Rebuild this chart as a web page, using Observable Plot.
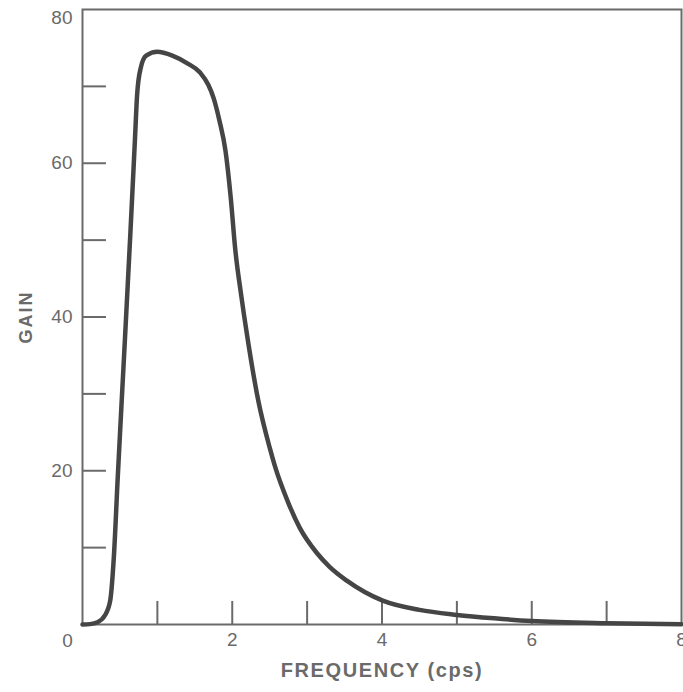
<!DOCTYPE html>
<html>
<head>
<meta charset="utf-8">
<script src="https://cdn.jsdelivr.net/npm/d3@7"></script>
<script src="https://cdn.jsdelivr.net/npm/@observablehq/plot@0.6"></script>
<style>
  body { margin: 0; background: #fff; }
</style>
</head>
<body>
<div id="chart"></div>
<script>
const freq = [0, 0.1, 0.2, 0.3, 0.37, 0.42, 0.47, 0.55, 0.64, 0.7, 0.73, 0.78, 0.85, 1.0, 1.2, 1.4, 1.57, 1.68, 1.75, 1.83, 1.91, 1.98, 2.04, 2.12, 2.2, 2.35, 2.5, 2.57, 2.75, 2.9, 3.13, 3.3, 3.53, 4.01, 4.5, 5.0, 5.5, 6.0, 7.0, 8.0];
const gain = [0, 0.05, 0.3, 1.2, 3.1, 9, 19, 34, 51, 63, 69, 72.5, 74, 74.5, 74, 73, 71.8, 70.2, 68.5, 65.5, 61.6, 55.5, 48.8, 42.8, 37.5, 29, 23, 20.6, 15.8, 12.6, 9.3, 7.5, 5.7, 3.1, 1.9, 1.25, 0.8, 0.45, 0.15, 0.03];
const xTickLabels = [2, 4, 6, 8];
const yTickLabels = [20, 40, 60];
const topLabel = [80];
const originLabel = [0];
const xInnerTicks = [1, 2, 3, 4, 5, 6, 7];
const yInnerTicks = [10, 20, 30, 40, 50, 60, 70];

const data = freq.map((f, i) => ({f, g: gain[i]}));
const axisColor = "#6a6a6a";

const chart = Plot.plot({
  width: 683,
  height: 692,
  marginLeft: 82,
  marginTop: 9,
  marginRight: 2,
  marginBottom: 68,
  x: {domain: [0, 8]},
  y: {domain: [0, 80]},
  style: {fontFamily: "'Liberation Sans', Arial, sans-serif", fontSize: "19px", color: axisColor, background: "#fff"},
  marks: [
    Plot.frame({stroke: axisColor, strokeWidth: 2}),
    Plot.axisX({ticks: xTickLabels, tickSize: 0, tickPadding: 8, label: "FREQUENCY (cps)", labelAnchor: "center", labelOffset: 52, labelArrow: "none"}),
    Plot.axisY({ticks: yTickLabels, tickSize: 0, tickPadding: 10, label: "GAIN", labelAnchor: "center", labelOffset: 63, labelArrow: "none"}),
    Plot.text(topLabel, {x: 0, y: d => d, text: d => String(d), textAnchor: "end", dx: -10, dy: 8, fill: axisColor, fontSize: 19}),
    Plot.text(originLabel, {x: d => d, y: 0, text: d => String(d), textAnchor: "middle", dx: -15, dy: 16, fill: axisColor, fontSize: 19}),
    Plot.ruleY(yInnerTicks, {x1: 0, x2: 0.32, stroke: axisColor, strokeWidth: 2}),
    Plot.ruleX(xInnerTicks, {y1: 0, y2: 3, stroke: axisColor, strokeWidth: 2}),
    Plot.line(data, {x: "f", y: "g", curve: "monotone-x", stroke: "#454545", strokeWidth: 4.5})
  ]
});
document.getElementById("chart").appendChild(chart);
const xl = chart.querySelector('g[aria-label="x-axis label"] text');
if (xl) { xl.style.fontWeight = "bold"; xl.style.fontSize = "20px"; xl.style.letterSpacing = "1.6px"; }
const yl = chart.querySelector('g[aria-label="y-axis label"] text');
if (yl) { yl.style.fontWeight = "bold"; yl.style.fontSize = "18px"; yl.style.letterSpacing = "2px"; }
</script>
</body>
</html>
